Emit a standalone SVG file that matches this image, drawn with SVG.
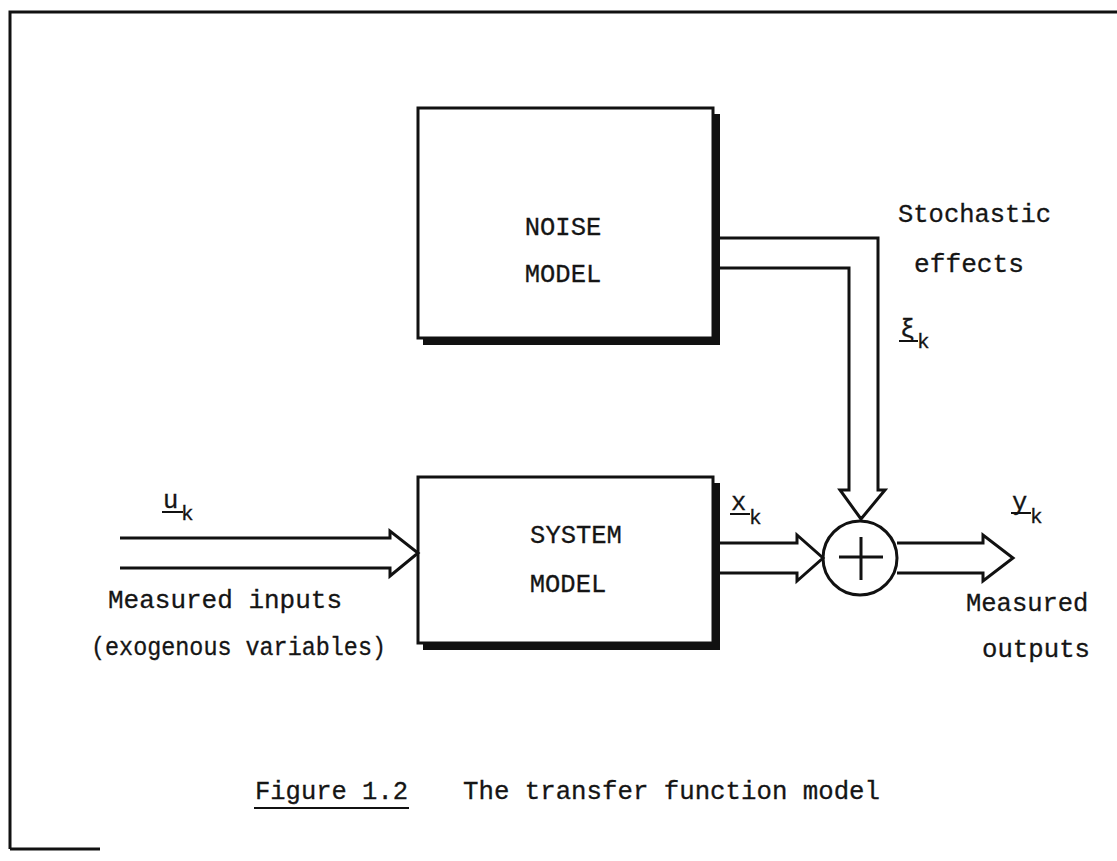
<svg xmlns="http://www.w3.org/2000/svg" width="1117" height="861" viewBox="0 0 1117 861">
<style>
.t{font-family:"Liberation Mono","DejaVu Sans Mono",monospace;font-size:25.5px;fill:#151515;stroke:#151515;stroke-width:0.3}
.s{font-family:"Liberation Mono","DejaVu Sans Mono",monospace;font-size:21px;fill:#151515;stroke:#151515;stroke-width:0.3}
.ln{stroke:#111;stroke-width:3;fill:none;stroke-linejoin:miter}
.sh{stroke:#111;stroke-width:6;fill:none}
.box{stroke:#111;stroke-width:3;fill:#fff}
</style>
<rect width="1117" height="861" fill="#fff"/>
<g id="frame">
<path class="ln" d="M10,849 L10,12 L1117,12"/>
<path class="ln" d="M10,849 L100,849"/>
</g>
<g id="noise-model">
<rect class="box" x="418" y="108" width="295" height="230"/>
<path class="sh" d="M423,342 L717,342 L717,114"/>
<text class="t" x="563" y="235" text-anchor="middle">NOISE</text>
<text class="t" x="563" y="282" text-anchor="middle">MODEL</text>
</g>
<g id="system-model">
<rect class="box" x="418" y="477" width="295" height="166"/>
<path class="sh" d="M423,647 L717,647 L717,483"/>
<text class="t" x="576" y="543" text-anchor="middle">SYSTEM</text>
<text class="t" x="568" y="592" text-anchor="middle">MODEL</text>
</g>
<g id="sum">
<circle class="ln" cx="860" cy="558" r="37"/>
<path class="ln" d="M861,537 L861,580 M839,557 L883,557"/>
</g>
<g id="connectors">
<path class="ln" d="M120,538 L390,538 L390,531 L418,553 L390,576 L390,568 L120,568"/>
<path class="ln" d="M720,543 L797,543 L797,535 L823,558 L797,581 L797,573 L720,573"/>
<path class="ln" d="M897,543 L983,543 L983,535 L1013,558 L983,581 L983,573 L897,573"/>
<path class="ln" d="M720,238 L878,238 L878,490 L885,490 L861,519 L840,490 L849,490 L849,268 L720,268"/>
</g>
<g id="labels">
<text class="t" x="898" y="222">Stochastic</text>
<text class="t" x="914" y="272" textLength="110" lengthAdjust="spacingAndGlyphs">effects</text>
<text class="t" x="900" y="337">ξ</text>
<path class="ln" style="stroke-width:2" d="M899,341 L918,341"/>
<text class="s" x="917" y="348">k</text>
<text class="t" x="163" y="508">u</text>
<path class="ln" style="stroke-width:2" d="M162,512 L183,512"/>
<text class="s" x="181" y="520">k</text>
<text class="t" x="731" y="510">x</text>
<path class="ln" style="stroke-width:2" d="M730,514 L750,514"/>
<text class="s" x="749" y="524">k</text>
<text class="t" x="1012" y="510">y</text>
<path class="ln" style="stroke-width:2" d="M1011,513 L1031,513"/>
<text class="s" x="1030" y="523">k</text>
<text class="t" x="108" y="608" textLength="234" lengthAdjust="spacingAndGlyphs">Measured inputs</text>
<text class="t" x="91" y="655" textLength="295" lengthAdjust="spacingAndGlyphs">(exogenous variables)</text>
<text class="t" x="966" y="611">Measured</text>
<text class="t" x="982" y="657" textLength="108" lengthAdjust="spacingAndGlyphs">outputs</text>
<text class="t" x="255" y="799" textLength="153" lengthAdjust="spacingAndGlyphs">Figure 1.2</text>
<path class="ln" style="stroke-width:2" d="M254,808 L409,808"/>
<text class="t" x="463" y="799" textLength="417" lengthAdjust="spacingAndGlyphs">The transfer function model</text>
</g>
</svg>
